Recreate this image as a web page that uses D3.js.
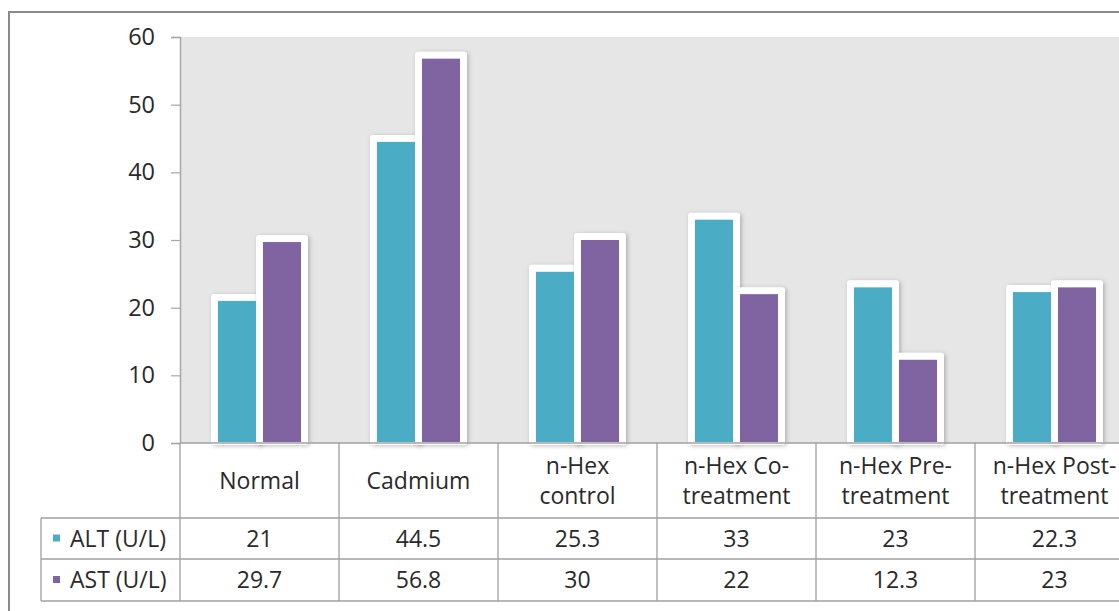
<!DOCTYPE html>
<html>
<head>
<meta charset="utf-8">
<script src="https://cdn.jsdelivr.net/npm/d3@7"></script>
<style>
  html, body { margin: 0; padding: 0; background: #fff; }
  svg { display: block; font-family: "Open Sans", "DejaVu Sans", sans-serif; }
</style>
</head>
<body>
<svg id="chart" width="1119" height="611"></svg>
<script>
// Liver enzyme levels per treatment group
const categories = ["Normal", "Cadmium", "n-Hex control", "n-Hex Co-treatment", "n-Hex Pre-treatment", "n-Hex Post-treatment"];
const categoryLines = [["Normal"], ["Cadmium"], ["n-Hex", "control"], ["n-Hex Co-", "treatment"], ["n-Hex Pre-", "treatment"], ["n-Hex Post-", "treatment"]];
const seriesNames = ["ALT (U/L)", "AST (U/L)"];
const altValues = [21, 44.5, 25.3, 33, 23, 22.3];
const astValues = [29.7, 56.8, 30, 22, 12.3, 23];
const yTicks = [0, 10, 20, 30, 40, 50, 60];
const seriesColors = ["#4BACC6", "#8064A2"];

const svg = d3.select("#chart");
const defs = svg.append("defs");
const shadow = defs.append("filter").attr("id", "frameShadow")
  .attr("x", "-20%").attr("y", "-20%").attr("width", "140%").attr("height", "140%");
shadow.append("feDropShadow").attr("dx", 1.5).attr("dy", 1).attr("stdDeviation", 2.2)
  .attr("flood-color", "#000").attr("flood-opacity", 0.25);

const plotLeft = 180, plotTop = 37, baseY = 443;
const catWidth = 159;
const plotRight = plotLeft + catWidth * categories.length;
const fontSize = 23;

// outer chart frame
svg.append("rect").attr("x", 9).attr("y", 12).attr("width", 1200).attr("height", 700)
  .attr("fill", "none").attr("stroke", "#8a8a8a").attr("stroke-width", 2);

// plot area background
svg.append("rect").attr("x", plotLeft).attr("y", plotTop)
  .attr("width", plotRight - plotLeft).attr("height", baseY - plotTop)
  .attr("fill", "#e6e6e6");

const x = d3.scaleBand().domain(categories).range([plotLeft, plotRight]).padding(0);
const y = d3.scaleLinear().domain([0, 60]).range([baseY, plotTop]);
const xs = d3.scaleBand().domain(seriesNames).range([0, 90]).padding(0);

// y axis
const yAxis = d3.axisLeft(y).tickValues(yTicks).tickSize(9).tickPadding(16).tickFormat(d3.format("d"));
const ya = svg.append("g").attr("transform", `translate(${plotLeft},0)`).call(yAxis);
ya.select(".domain").attr("stroke", "#a6a6a6").attr("stroke-width", 1.5);
ya.selectAll(".tick line").attr("stroke", "#a6a6a6").attr("stroke-width", 1.2);
ya.selectAll(".tick text").attr("font-size", 23.5).attr("fill", "#2a2a2a")
  .attr("font-family", "'Open Sans', sans-serif");

const seriesData = [altValues, astValues];
const inset = 3.5, frame = 7;
const bars = [];
categories.forEach((c, i) => {
  seriesNames.forEach((s, j) => {
    const x0 = x(c) + x.bandwidth() / 2 - 45 + xs(s) + inset;
    bars.push({ c, s, j, v: seriesData[j][i], x0, w: xs.bandwidth() - 2 * inset });
  });
});

// white frames with soft shadow
svg.append("g").selectAll("rect").data(bars).join("rect")
  .attr("x", d => d.x0 - frame)
  .attr("y", d => y(d.v) - frame)
  .attr("width", d => d.w + 2 * frame)
  .attr("height", d => baseY - y(d.v) + frame + 2)
  .attr("rx", 3).attr("fill", "#fff")
  .attr("filter", "url(#frameShadow)");

// coloured columns
svg.append("g").selectAll("rect").data(bars).join("rect")
  .attr("x", d => d.x0)
  .attr("y", d => y(d.v))
  .attr("width", d => d.w)
  .attr("height", d => baseY - 1 - y(d.v))
  .attr("fill", d => seriesColors[d.j]);

// data table
const gridColor = "#a0a0a0";
const rowTops = [baseY, 518, 559, 601];
const table = svg.append("g").attr("stroke", gridColor).attr("stroke-width", 1.3);
table.append("line").attr("x1", plotLeft).attr("x2", 1119).attr("y1", baseY).attr("y2", baseY);
[518, 559, 601].forEach(yy => table.append("line").attr("x1", 41).attr("x2", 1119).attr("y1", yy).attr("y2", yy));
table.append("line").attr("x1", 41).attr("x2", 41).attr("y1", 518).attr("y2", 601);
d3.range(categories.length + 1).forEach(k => {
  const xx = plotLeft + k * catWidth;
  table.append("line").attr("x1", xx).attr("x2", xx).attr("y1", baseY).attr("y2", 601);
});

const txt = svg.append("g").attr("font-size", fontSize).attr("fill", "#2a2a2a").attr("text-anchor", "middle");
categories.forEach((c, i) => {
  const cx = x(c) + x.bandwidth() / 2;
  const lines = categoryLines[i];
  const lh = 30;
  const startY = (baseY + 518) / 2 - (lines.length - 1) * lh / 2;
  lines.forEach((ln, k) => {
    txt.append("text").attr("x", cx).attr("y", startY + k * lh).attr("dy", "0.35em").text(ln);
  });
  seriesData.forEach((vals, j) => {
    txt.append("text").attr("x", cx).attr("y", (rowTops[j + 1] + rowTops[j + 2]) / 2)
      .attr("dy", "0.35em").text(vals[i]);
  });
});

// legend keys in the table
seriesNames.forEach((s, j) => {
  const cy = (rowTops[j + 1] + rowTops[j + 2]) / 2;
  svg.append("rect").attr("x", 53).attr("y", cy - 4).attr("width", 7).attr("height", 7)
    .attr("fill", seriesColors[j]);
  svg.append("text").attr("x", 70).attr("y", cy).attr("dy", "0.35em")
    .attr("font-size", fontSize).attr("fill", "#2a2a2a").text(s);
});
</script>
</body>
</html>
